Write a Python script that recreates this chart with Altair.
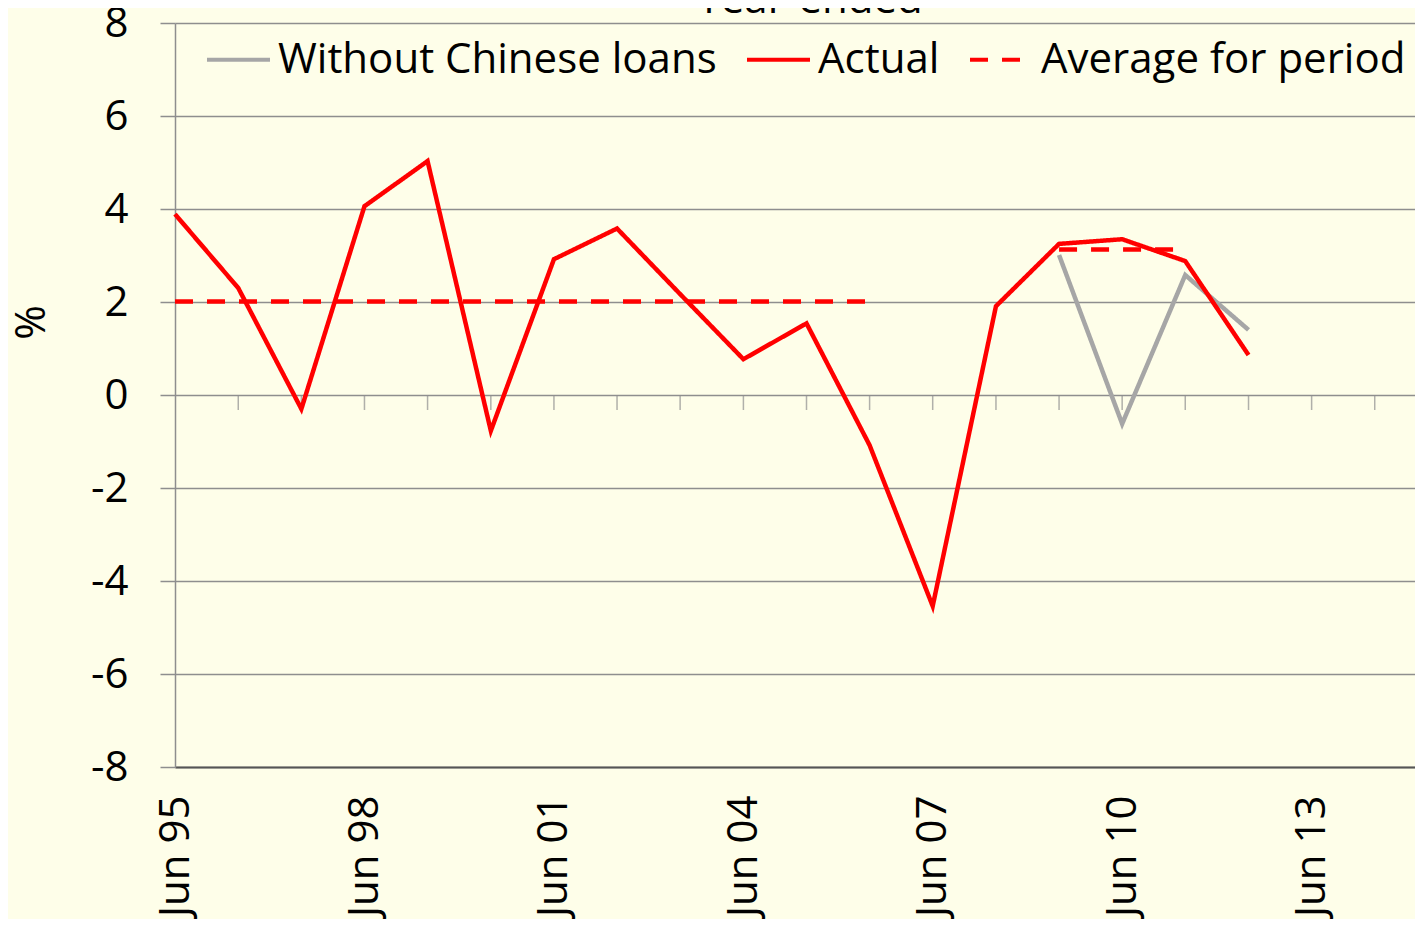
import altair as alt
import pandas as pd

# ---- data ----
years = list(range(1995, 2013))
actual = [3.89, 2.30, -0.30, 4.06, 5.03, -0.77, 2.92, 3.58, 2.17, 0.77,
          1.54, -1.08, -4.54, 1.91, 3.25, 3.35, 2.88, 0.86]
without_years = [2009, 2010, 2011, 2012]
without_vals = [3.01, -0.62, 2.58, 1.40]
avg_segments = [("1995-2006", 1995, 2006, 2.01), ("2009-2011", 2009, 2011, 3.13)]
tick_years = list(range(1996, 2015))
label_years = [1995, 1998, 2001, 2004, 2007, 2010, 2013]
title_text = ["Year-ended"]

series_names = ["Without Chinese loans", "Actual", "Average for period"]
series_colors = ["#A6A6A6", "#FF0000", "#FF0000"]
series_dash = [[1, 0], [1, 0], [18, 14]]

FONT = "Open Sans"
FS = 42
GRID = "#8E8E8E"
BG = "#FEFEE9"
LW = 4.5


def jun(y):
    return f"{y}-06-01"


df_actual = pd.DataFrame({"date": [jun(y) for y in years], "value": actual,
                          "series": "Actual", "seg": "a"})
df_without = pd.DataFrame({"date": [jun(y) for y in without_years], "value": without_vals,
                           "series": "Without Chinese loans", "seg": "w"})
rows = []
for name, y0, y1, v in avg_segments:
    rows.append({"date": jun(y0), "value": v, "series": "Average for period", "seg": name})
    rows.append({"date": jun(y1), "value": v, "series": "Average for period", "seg": name})
df_avg = pd.DataFrame(rows)
df_ticks = pd.DataFrame({"date": [jun(y) for y in tick_years], "zero": 0})
df_title = pd.DataFrame({"t": title_text})

x_scale = alt.Scale(type="utc", domain=[alt.DateTime(year=1995, month=6, date=1, utc=True),
                                        alt.DateTime(year=2015, month=1, date=20, utc=True)])
y_scale = alt.Scale(domain=[-8, 8], nice=False, zero=False)

x_axis = alt.Axis(
    values=[alt.DateTime(year=y, month=6, date=1, utc=True) for y in label_years],
    labelExpr="utcFormat(datum.value, 'Jun %y')",
    labelAngle=-90, labelFontSize=FS, labelFont=FONT, labelColor="#000000",
    labelPadding=28, ticks=False, tickSize=0, grid=False, title=None,
    domainColor="#555555", domainWidth=2, labelOverlap=False, labelBound=False, labelFlush=False,
)
y_axis = alt.Axis(
    values=list(range(-8, 9, 2)),
    labelExpr="datum.value < 0 ? '-' + abs(datum.value) : '' + datum.value",
    labelFontSize=FS, labelFont=FONT, labelColor="#000000", labelPadding=32,
    tickSize=15, tickColor=GRID, tickWidth=1.5,
    domainColor=GRID, domainWidth=1.5,
    grid=True, gridColor=GRID, gridWidth=1.5,
    title="%", titleFont=FONT, titleFontSize=FS, titleFontWeight="normal", titleColor="#000000",
    titleX=-144, titleY=299, titleAlign="center", titleBaseline="middle", titleAngle=-90,
)

legend_kw = dict(
    title=None, orient="none", legendX=30, legendY=3, direction="horizontal",
    symbolType="stroke", symbolSize=3969, symbolStrokeWidth=4,
    labelFont=FONT, labelFontSize=FS, labelColor="#000000",
    labelOffset=6, columnPadding=22, padding=0, labelLimit=600,
)
color = alt.Color("series:N", scale=alt.Scale(domain=series_names, range=series_colors),
                  legend=alt.Legend(**legend_kw))
dash = alt.StrokeDash("series:N", scale=alt.Scale(domain=series_names, range=series_dash),
                      legend=alt.Legend(**legend_kw))

x_enc = alt.X("date:T", scale=x_scale, axis=x_axis)
y_enc = alt.Y("value:Q", scale=y_scale, axis=y_axis)

ticks = alt.Chart(df_ticks).mark_tick(orient="vertical", size=15, thickness=1.5,
                                      color=GRID, yOffset=7.5).encode(
    x=alt.X("date:T", scale=x_scale, axis=x_axis),
    y=alt.Y("zero:Q", scale=y_scale, axis=y_axis),
)

line_w = alt.Chart(df_without).mark_line(strokeWidth=LW).encode(
    x=x_enc, y=y_enc, color=color, strokeDash=dash, detail="seg:N")
line_a = alt.Chart(df_actual).mark_line(strokeWidth=LW).encode(
    x=x_enc, y=y_enc, color=color, strokeDash=dash, detail="seg:N")
line_avg = alt.Chart(df_avg).mark_line(strokeWidth=LW).encode(
    x=x_enc, y=y_enc, color=color, strokeDash=dash, detail="seg:N")

title = alt.Chart(df_title).mark_text(
    font=FONT, fontSize=FS, color="#000000", align="center", baseline="alphabetic"
).encode(x=alt.value(635), y=alt.value(-10), text="t:N")

chart = alt.layer(ticks, line_w, line_avg, line_a, title).properties(
    width=1240, height=744,
    autosize=alt.AutoSizeParams(type="none"),
    padding={"left": 167, "top": 15, "right": 0, "bottom": 152},
).configure(background=BG).configure_view(stroke=None)

chart.save("out.html", embed_options={"renderer": "svg", "actions": False})
